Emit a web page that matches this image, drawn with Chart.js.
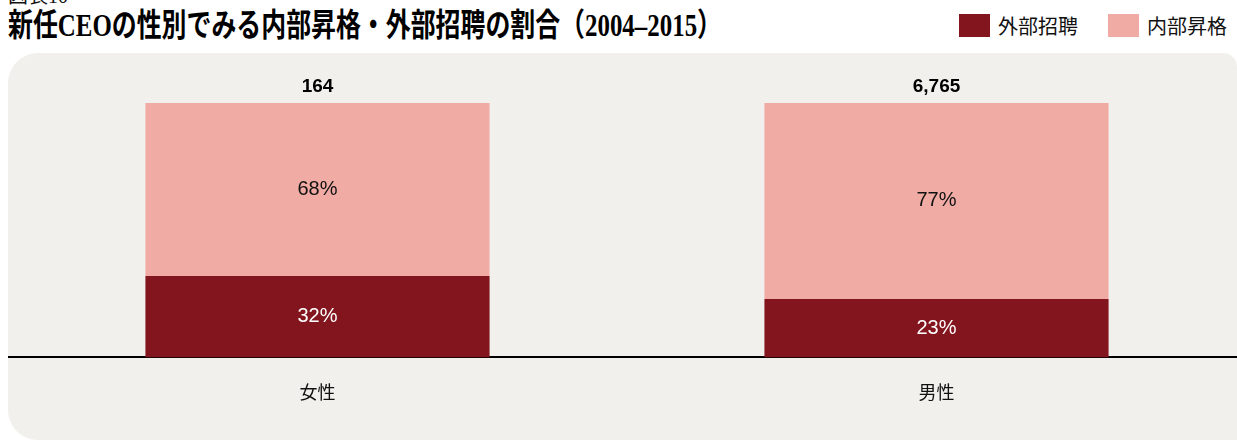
<!DOCTYPE html>
<html lang="ja">
<head>
<meta charset="utf-8">
<script src="https://cdn.jsdelivr.net/npm/chart.js@4.4.0/dist/chart.umd.min.js"></script>
<style>
  body {
    margin: 0;
    width: 1237px;
    height: 440px;
    overflow: hidden;
    position: relative;
    background: #fff;
    font-family: "Liberation Sans", "Noto Sans CJK JP", sans-serif;
  }
  #figno {
    position: absolute;
    left: 8px;
    top: -14px;
    font: 20px/20px "Liberation Serif", "Noto Sans CJK JP", serif;
    color: #111;
    white-space: nowrap;
  }
  #title {
    position: absolute;
    left: 8px;
    top: 7px;
    font: bold 32px/36px "Liberation Serif", "Noto Sans CJK JP", serif;
    color: #000;
    white-space: nowrap;
    transform-origin: left top;
  }
  #legend {
    position: absolute;
    top: 14px;
    left: 959px;
    display: flex;
    white-space: nowrap;
    font: 20px/23px "Noto Sans CJK JP", sans-serif;
    color: #111;
  }
  .item { display: flex; align-items: center; flex-shrink: 0; margin-right: 30px; }
  .swatch { width: 31px; height: 23px; margin-right: 8px; flex-shrink: 0; }
  #panel {
    position: absolute;
    left: 8px;
    top: 53px;
    width: 1229px;
    height: 387px;
    background: #f1f0ec;
    border-radius: 30px 14px 0 30px;
  }
  #chart { position: absolute; left: 8px; top: 53px; }
</style>
</head>
<body>
<div id="figno">図表10</div>
<div id="title">新任CEOの性別でみる内部昇格・外部招聘の割合（2004–2015）</div>
<div id="legend"></div>
<div id="panel"></div>
<canvas id="chart" width="1238" height="387"></canvas>

<script>
// data
const categories = ["女性", "男性"];
const totals = [164, 6765];
const seriesNames = ["外部招聘", "内部昇格"];
const externalHire = [32, 23];
const internalPromo = [68, 77];
const seriesColors = ["#83151f", "#f1aba5"];
const labelColors = ["#ffffff", "#111111"];

// squeeze the title to the width it has in the original
const title = document.getElementById("title");
title.style.transform = `scaleX(${714 / title.getBoundingClientRect().width})`;

// legend
const legend = document.getElementById("legend");
seriesNames.forEach((name, i) => {
  const item = document.createElement("div");
  item.className = "item";
  item.innerHTML = `<span class="swatch" style="background:${seriesColors[i]}"></span><span>${name}</span>`;
  legend.appendChild(item);
});

// percent inside each segment, total above each bar
const barLabels = {
  id: "barLabels",
  afterDatasetsDraw(chart) {
    const ctx = chart.ctx;
    ctx.save();
    ctx.textAlign = "center";
    ctx.textBaseline = "middle";
    chart.data.datasets.forEach((ds, di) => {
      const meta = chart.getDatasetMeta(di);
      meta.data.forEach((bar, i) => {
        ctx.font = '20px "Liberation Sans", sans-serif';
        ctx.fillStyle = labelColors[di];
        ctx.fillText(ds.data[i] + "%", bar.x, (bar.y + bar.base) / 2);
      });
    });
    const top = chart.getDatasetMeta(chart.data.datasets.length - 1);
    top.data.forEach((bar, i) => {
      ctx.font = 'bold 19px "Liberation Sans", sans-serif';
      ctx.fillStyle = "#000";
      ctx.fillText(totals[i].toLocaleString("en-US"), bar.x, bar.y - 16);
    });
    ctx.restore();
  },
};

new Chart(document.getElementById("chart"), {
  type: "bar",
  data: {
    labels: categories,
    datasets: [
      {
        label: seriesNames[0],
        data: externalHire,
        backgroundColor: seriesColors[0],
        categoryPercentage: 0.556,
        barPercentage: 1,
      },
      {
        label: seriesNames[1],
        data: internalPromo,
        backgroundColor: seriesColors[1],
        categoryPercentage: 0.556,
        barPercentage: 1,
      },
    ],
  },
  options: {
    responsive: false,
    animation: false,
    layout: { padding: { top: 50, left: 0, right: 0, bottom: 13 } },
    plugins: { legend: { display: false }, tooltip: { enabled: false } },
    scales: {
      x: {
        stacked: true,
        grid: { display: false, drawTicks: false },
        border: { display: true, color: "#000", width: 2 },
        ticks: {
          padding: 24,
          color: "#111",
          font: { size: 18, family: '"Noto Sans CJK JP", sans-serif' },
        },
      },
      y: { stacked: true, display: false, min: 0, max: 100 },
    },
  },
  plugins: [barLabels],
});
</script>
</body>
</html>
